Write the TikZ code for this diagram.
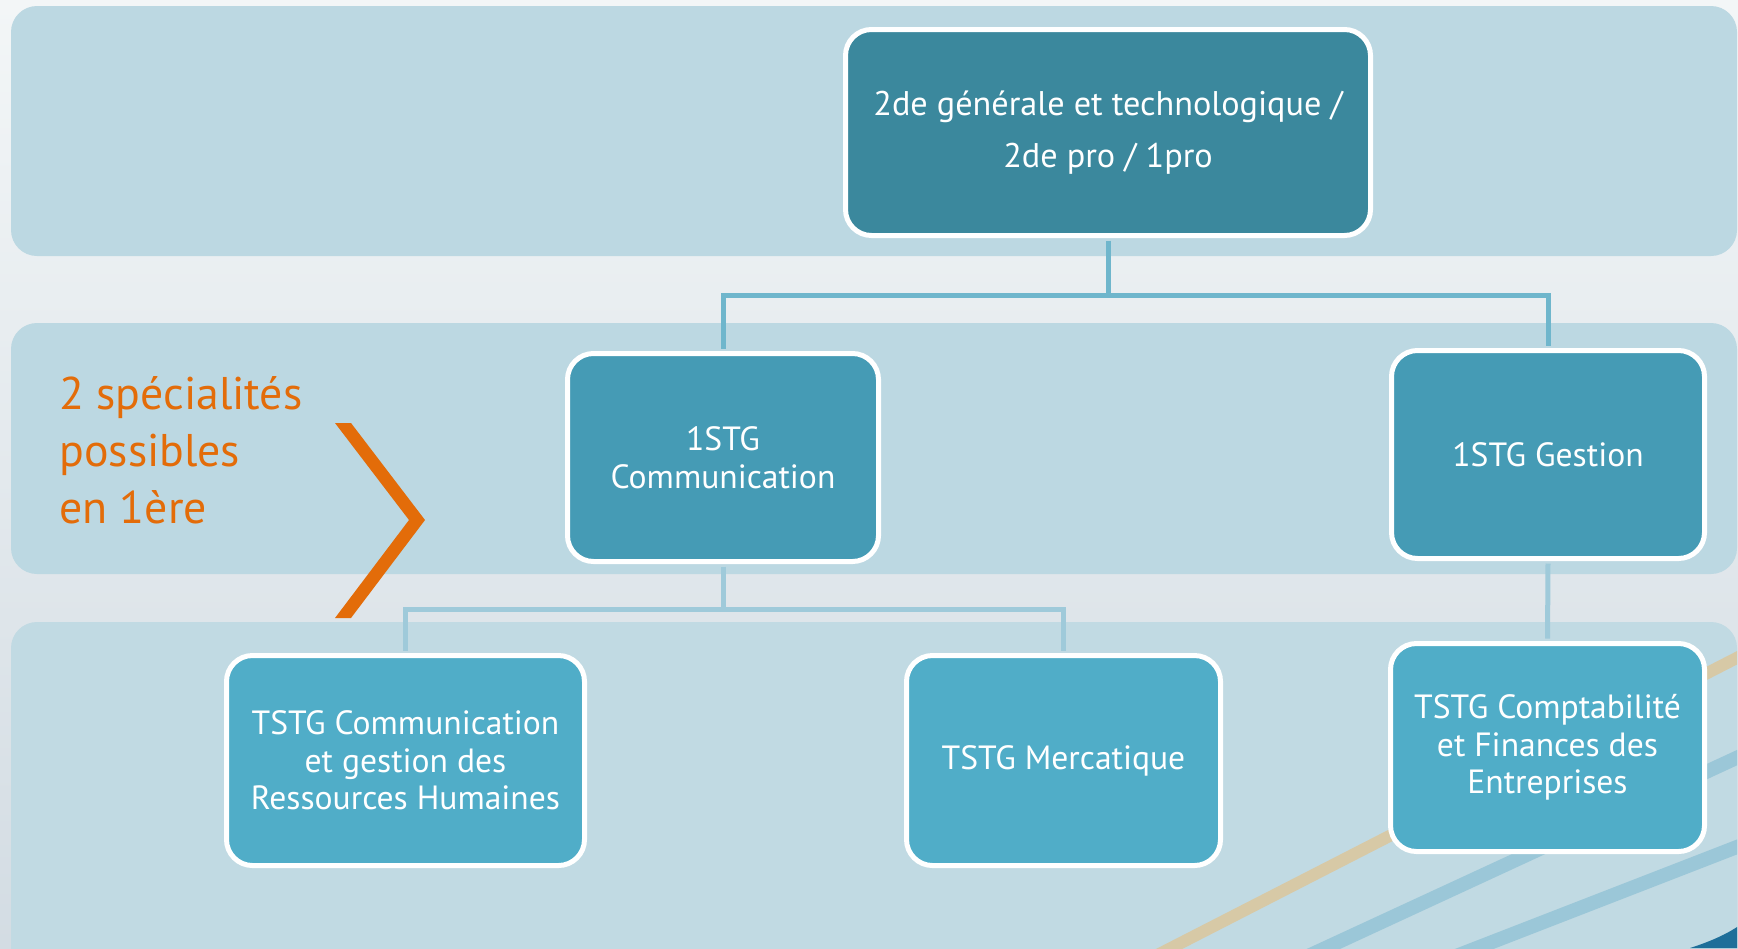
\documentclass[tikz,border=0pt]{standalone}
\usepackage{fontspec}
\setmainfont{PT Sans}
\usetikzlibrary{calc}
\definecolor{bgtop}{HTML}{F3F6F7}
\definecolor{bgbot}{HTML}{D3DCE3}
\definecolor{bandc}{HTML}{BCD8E2}
\definecolor{bandlow}{HTML}{C1DAE3}
\definecolor{boxA}{HTML}{3B889D}
\definecolor{boxB}{HTML}{459BB5}
\definecolor{boxC}{HTML}{50ADC8}
\definecolor{linkA}{HTML}{6FB6CC}
\definecolor{linkB}{HTML}{9FCADA}
\definecolor{orangeC}{HTML}{E36C09}
\definecolor{stripeO}{HTML}{E6BE7E}
\definecolor{stripeB}{HTML}{7DB8CF}
\definecolor{darkcorner}{HTML}{1E6E99}
\tikzset{
  boxbase/.style={draw=white, line width=2.5pt, rounded corners=13pt, inner sep=0pt,
    align=center, text=white, font=\fontsize{16.8}{18.85}\selectfont},
  boxtop/.style={boxbase, fill=boxA, font=\fontsize{17.1}{26}\selectfont},
  boxmid/.style={boxbase, fill=boxB},
  boxlow/.style={boxbase, fill=boxC},
  linkup/.style={draw=linkA, line width=2.5pt, shorten <=1.25pt, shorten >=1.25pt},
  linklow/.style={draw=linkB, line width=2.5pt, shorten <=1.25pt, shorten >=1.25pt},
  orangetxt/.style={text=orangeC, anchor=base west, inner sep=0pt, font=\fontsize{22.9}{28.5}\selectfont},
}
\begin{document}
\begin{tikzpicture}[x=0.5pt, y=-0.5pt]
\useasboundingbox (0,0) rectangle (1738,948);
% background
\shade[top color=bgtop, bottom color=bgbot] (0,0) rectangle (1738,948);
% bands
\fill[bandc, rounded corners=13pt] (11,6) rectangle (1737,256);
\fill[bandc, rounded corners=13pt] (11,323) rectangle (1737,574);
\fill[bandlow, rounded corners=13pt] (11,622) rectangle (1737,990);
% stripes in bottom band
\begin{scope}
  \clip[rounded corners=13pt] (11,622) rectangle (1737,990);
  \draw[stripeO, line width=6pt, opacity=0.6] (1130,969) -- (1760,646);
  \draw[stripeB, line width=7pt, opacity=0.55] (1280,969) -- (1760,747);
  \draw[stripeB, line width=7pt, opacity=0.55] (1420,970) -- (1760,838);
  \fill[darkcorner] (1690,948) .. controls (1715,940) and (1730,932) .. (1740,925) -- (1740,948) -- cycle;
\end{scope}
% orange text and chevron
\node[orangetxt] (l1) at (59,409) {2 spécialités};
\node[orangetxt] (l2) at (59,466) {possibles};
\node[orangetxt] (l3) at (59,523) {en 1ère};
\fill[orangeC] (335,423) -- (351,423) -- (425,520) -- (351,618) -- (335,618) -- (409,520) -- cycle;
% boxes
\node[boxtop, minimum width=262.5pt, minimum height=103pt] (top) at (1108,132.5)
  {2de générale et technologique /\\2de pro / 1pro};
\node[boxmid, minimum width=155.5pt, minimum height=104pt] (comm) at (723,457.5)
  {1STG\\Communication};
\node[boxmid, minimum width=156.5pt, minimum height=104pt] (gest) at (1548,454.5)
  {1STG Gestion};
\node[boxlow, minimum width=179pt, minimum height=105pt] (crh) at (405.5,760.5)
  {TSTG Communication\\et gestion des\\Ressources Humaines};
\node[boxlow, minimum width=157pt, minimum height=105pt] (merc) at (1063.5,760.5)
  {TSTG Mercatique};
\node[boxlow, minimum width=157pt, minimum height=104pt] (cfe) at (1547.5,747.5)
  {TSTG Comptabilité\\et Finances des\\Entreprises};
% connectors
\coordinate (j1) at ($(top.south)+(0,57)$);
\coordinate (j2) at ($(comm.south)+(0,45)$);
\draw[linkup] (top.south) -- (j1);
\draw[linkup, line join=miter] (comm.north) |- (j1) -| (gest.north);
\draw[linklow] (comm.south) -- (j2);
\draw[linklow, line join=miter] (crh.north) |- (j2) -| (merc.north);
\draw[linklow] (gest.south) -- (cfe.north);
\end{tikzpicture}
\end{document}
